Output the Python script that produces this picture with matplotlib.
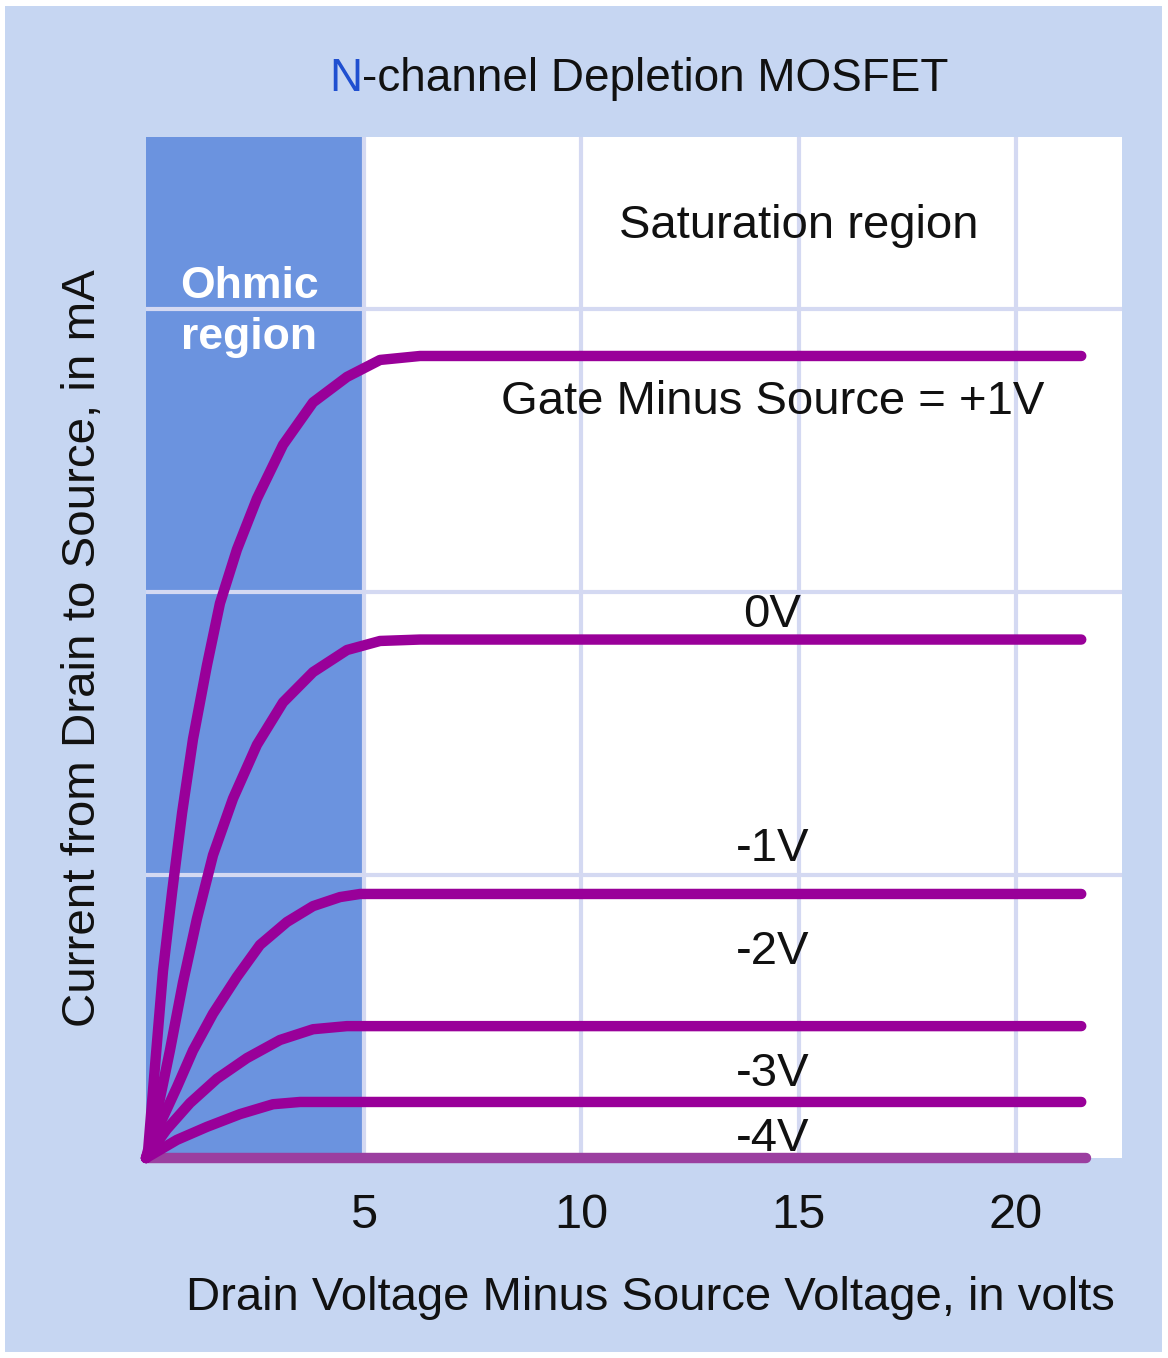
"""
N-channel depletion MOSFET output characteristics
"""
import matplotlib.pyplot as plt
from matplotlib.patches import Rectangle

# Drain-source voltage (V) vs drain current (mA)
vds_p1 = [0, 0.05, 0.21, 0.39, 0.60, 0.83, 1.08, 1.40, 1.70, 2.09, 2.55,
          3.15, 3.84, 4.62, 5.38, 6.3, 21.5]
id_p1 = [0, 0.03, 0.33, 0.66, 0.94, 1.22, 1.48, 1.74, 1.96, 2.15, 2.33,
         2.52, 2.67, 2.76, 2.82, 2.834, 2.834]

vds_0 = [0, 0.05, 0.28, 0.55, 0.85, 1.17, 1.54, 2.0, 2.55, 3.15, 3.84,
         4.62, 5.38, 6.3, 21.5]
id_0 = [0, 0.02, 0.18, 0.38, 0.62, 0.845, 1.07, 1.27, 1.46, 1.61, 1.717,
        1.795, 1.827, 1.832, 1.832]

vds_m1 = [0, 0.32, 0.71, 1.08, 1.54, 2.09, 2.62, 3.24, 3.84, 4.46, 4.92, 21.5]
id_m1 = [0, 0.12, 0.25, 0.38, 0.51, 0.64, 0.753, 0.834, 0.89, 0.922, 0.933,
         0.933]

vds_m2 = [0, 0.48, 1.01, 1.63, 2.32, 3.08, 3.84, 4.62, 21.5]
id_m2 = [0, 0.102, 0.194, 0.28, 0.353, 0.417, 0.455, 0.466, 0.466]

vds_m3 = [0, 0.71, 1.40, 2.16, 2.92, 3.54, 21.5]
id_m3 = [0, 0.064, 0.11, 0.155, 0.19, 0.198, 0.198]

vds_m4 = [0, 21.6]
id_m4 = [0, 0]

gate_labels = ['Gate Minus Source = +1V', '0V', '-1V', '-2V', '-3V', '-4V']
label_y = [2.63, 1.876, 1.049, 0.686, 0.256, 0.025]
label_x = 14.4

x_ticks = [5, 10, 15, 20]
y_grid = [1, 2, 3]

BG = '#c6d6f2'
OHMIC = '#6b93df'
GRID = '#d4d9f2'
CURVE = '#990099'

plt.rcParams['font.family'] = ['Liberation Sans', 'DejaVu Sans']

fig = plt.figure(figsize=(11.68, 13.58), dpi=100, facecolor='white')
# light blue card with a thin white margin
fig.patches.append(Rectangle((5 / 1168, 6 / 1358), 1157 / 1168, 1346 / 1358,
                             transform=fig.transFigure, facecolor=BG,
                             edgecolor='none', zorder=-5))

ax = fig.add_axes([146 / 1168, 1 - 1158 / 1358, 976 / 1168, 1021 / 1358])
ax.set_facecolor('white')
ax.set_xlim(0, 976 / 43.5)
ax.set_ylim(0, 1021 / 283)
for s in ax.spines.values():
    s.set_visible(False)

# ohmic region band
ax.axvspan(0, 5, color=OHMIC, zorder=1, lw=0)

# grid
for x in x_ticks:
    ax.axvline(x, color=GRID, lw=3, zorder=2)
for y in y_grid:
    ax.axhline(y, color=GRID, lw=3, zorder=2)

curves = [(vds_p1, id_p1), (vds_0, id_0), (vds_m1, id_m1),
          (vds_m2, id_m2), (vds_m3, id_m3)]
for xs, ys in curves:
    ax.plot(xs, ys, color=CURVE, lw=7.5, solid_capstyle='round',
            solid_joinstyle='round', zorder=4, clip_on=False)
ax.plot(vds_m4, id_m4, color='#9b3fa0', lw=7.5, solid_capstyle='round',
        zorder=3, clip_on=False)

for lab, y in zip(gate_labels, label_y):
    ax.text(label_x, y, lab, ha='center', va='baseline', fontsize=34,
            color='#111111', zorder=5)

ax.text(15, 3.25, 'Saturation region', ha='center', va='baseline',
        fontsize=34, color='#111111')
ax.text(2.37, 3.04, 'Ohmic', ha='center', va='baseline', fontsize=32,
        fontweight='bold', color='white', zorder=5)
ax.text(2.37, 2.86, 'region', ha='center', va='baseline', fontsize=32,
        fontweight='bold', color='white', zorder=5)

ax.set_xticks(x_ticks)
ax.set_xticklabels([str(t) for t in x_ticks])
ax.set_yticks([])
ax.tick_params(axis='x', length=0, pad=25, labelsize=35, labelcolor='#111111')

# title, N in blue
fig.text(362 / 1168, 1 - 91 / 1358, 'N', ha='right', va='baseline',
         fontsize=33, color='#1f4fd0')
fig.text(362 / 1168, 1 - 91 / 1358, '-channel Depletion MOSFET', ha='left',
         va='baseline', fontsize=33, color='#111111')

fig.text(650 / 1168, 1 - 1310 / 1358,
         'Drain Voltage Minus Source Voltage, in volts',
         ha='center', va='baseline', fontsize=34, color='#111111')
fig.text(83 / 1168, 1 - 648 / 1358, 'Current from Drain to Source, in mA',
         ha='center', va='center', rotation=90, fontsize=34.2,
         color='#111111')

fig.savefig('out.png', dpi=100, facecolor='white')
